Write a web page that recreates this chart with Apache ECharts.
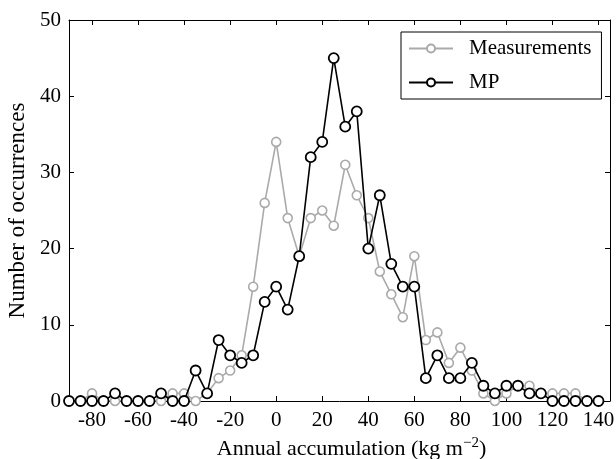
<!DOCTYPE html>
<html>
<head>
<meta charset="utf-8">
<script src="https://cdn.jsdelivr.net/npm/echarts@6/dist/echarts.min.js"></script>
<style>html,body{margin:0;padding:0;background:#fff;}#c{width:616px;height:459px;}</style>
</head>
<body>
<div id="c"></div>
<script>
// Bin centres (kg m^-2)
var bins = [-90,-85,-80,-75,-70,-65,-60,-55,-50,-45,-40,-35,-30,-25,-20,-15,-10,-5,0,5,10,15,20,25,30,35,40,45,50,55,60,65,70,75,80,85,90,95,100,105,110,115,120,125,130,135,140];
var measurements = [0,0,1,0,0,0,0,0,0,1,1,0,1,3,4,6,15,26,34,24,19,24,25,23,31,27,24,17,14,11,19,8,9,5,7,4,1,0,1,2,2,1,1,1,1,0,0];
var mp = [0,0,0,0,1,0,0,0,1,0,0,4,1,8,6,5,6,13,15,12,19,32,34,45,36,38,20,27,18,15,15,3,6,3,3,5,2,1,2,2,1,1,0,0,0,0,0];
var xTicks = [-80,-60,-40,-20,0,20,40,60,80,100,120,140];
var yTicks = [0,10,20,30,40,50];

var font = "'Liberation Serif','Times New Roman',serif";
function pairs(vals){ return bins.map(function(b,i){ return [b, vals[i]]; }); }

var chart = echarts.init(document.getElementById('c'), null, {renderer:'canvas'});
var axisLine = {show:true, onZero:false, lineStyle:{color:'#000', width:1}};
chart.setOption({
  animation:false,
  backgroundColor:'#fff',
  grid:{left:69, right:6, top:20, bottom:58, containLabel:false, outerBoundsMode:'none'},
  legend:{
    orient:'vertical', left:401, top:32,
    padding:[6,10,6,7], itemGap:13, itemWidth:44, itemHeight:10,
    borderColor:'#000', borderWidth:1, borderRadius:0,
    textStyle:{fontFamily:font, fontSize:21, color:'#000', padding:[0,0,0,11]},
    data:['Measurements','MP']
  },
  xAxis:[{
    type:'value', min:-90, max:145, position:'bottom',
    axisLine:axisLine,
    axisTick:{show:true, inside:true, length:5, customValues:xTicks, lineStyle:{color:'#000'}},
    axisLabel:{show:true, customValues:xTicks, fontFamily:font, fontSize:21, color:'#000', margin:9},
    splitLine:{show:false},
    name:'Annual accumulation (kg m{sup|\u22122})', nameLocation:'middle', nameGap:18,
    nameTextStyle:{fontFamily:font, fontSize:22, color:'#000', padding:[0,0,0,24],
      rich:{sup:{fontFamily:font, fontSize:15, color:'#000', padding:[0,0,12,0]}}}
  },{
    type:'value', min:-90, max:145, position:'top',
    axisLine:axisLine,
    axisTick:{show:true, inside:true, length:5, customValues:xTicks, lineStyle:{color:'#000'}},
    axisLabel:{show:false}, splitLine:{show:false}
  }],
  yAxis:[{
    type:'value', min:0, max:50, interval:10, position:'left',
    axisLine:axisLine,
    axisTick:{show:true, inside:true, length:5, lineStyle:{color:'#000'}},
    axisLabel:{fontFamily:font, fontSize:21, color:'#000', margin:8},
    splitLine:{show:false},
    name:'Number of occurrences', nameLocation:'middle', nameGap:36,
    nameTextStyle:{fontFamily:font, fontSize:23, color:'#000'}
  },{
    type:'value', min:0, max:50, interval:10, position:'right',
    axisLine:axisLine,
    axisTick:{show:true, inside:true, length:5, lineStyle:{color:'#000'}},
    axisLabel:{show:false}, splitLine:{show:false}
  }],
  series:[{
    name:'Measurements', type:'line', data:pairs(measurements),
    symbol:'circle', symbolSize:9, showAllSymbol:true,
    lineStyle:{color:'#aaaaaa', width:1.6},
    itemStyle:{color:'#fff', borderColor:'#aaaaaa', borderWidth:1.6},
    color:'#aaaaaa', z:2
  },{
    name:'MP', type:'line', data:pairs(mp),
    symbol:'circle', symbolSize:10, showAllSymbol:true,
    lineStyle:{color:'#000', width:1.6},
    itemStyle:{color:'#fff', borderColor:'#000', borderWidth:1.8},
    color:'#000', z:3
  }]
});
</script>
</body>
</html>
